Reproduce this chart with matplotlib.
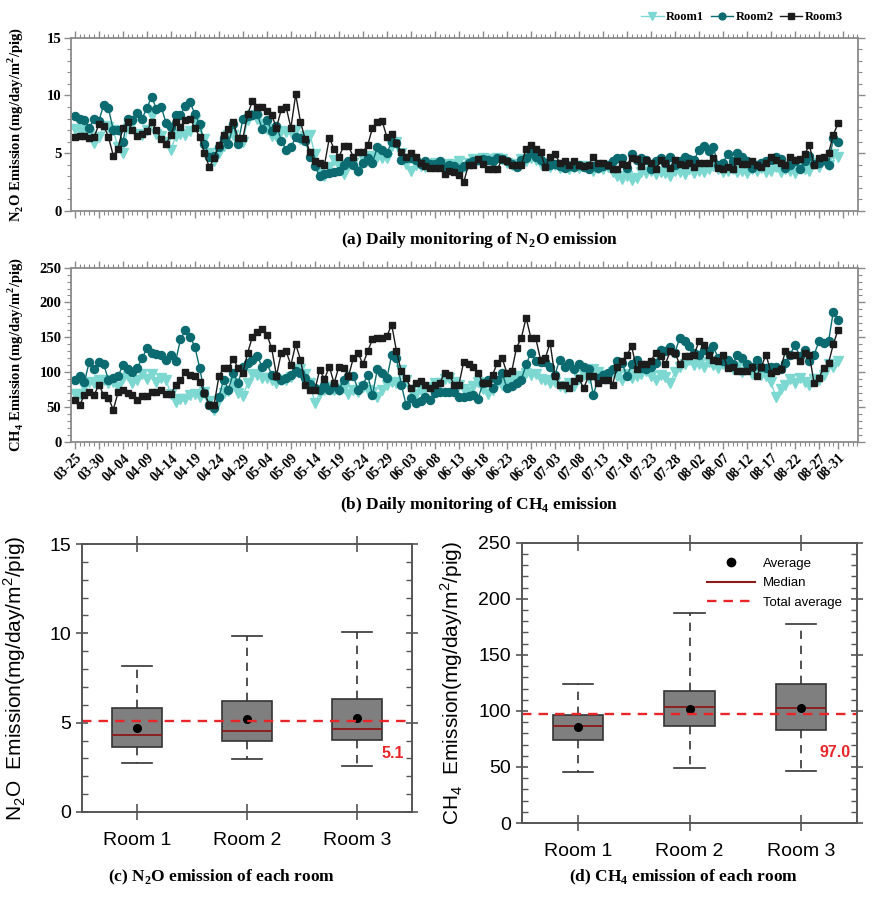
import matplotlib
matplotlib.use("Agg")
import numpy as np
import pandas as pd
import matplotlib.pyplot as plt
from matplotlib.ticker import MultipleLocator
from matplotlib.lines import Line2D

plt.rcParams["mathtext.fontset"] = "custom"
plt.rcParams["mathtext.rm"] = "Liberation Serif"
plt.rcParams["mathtext.bf"] = "Liberation Serif:bold"
plt.rcParams["mathtext.sf"] = "Liberation Sans"

# ---- daily data, 03-25 .. 08-31 ----
dates = pd.date_range("2019-03-25", "2019-08-31", freq="D")
days = np.arange(len(dates))

n2o_room1 = [
    7.1, 7.0, 6.9, 6.7, 5.9, 6.4, 7.4, 7.3, 7.0, 5.5,
    5.0, 7.2, 7.5, 6.7, 6.6, 7.0, 8.2, 6.7, 6.5, 6.0,
    5.3, 6.5, 6.7, 6.6, 6.9, 7.9, 7.3, 6.2, 5.0, 4.3,
    5.0, 5.6, 6.6, 6.6, 5.9, 6.0, 7.9, 8.3, 8.0, 7.5,
    7.1, 6.5, 6.5, 6.9, 6.8, 6.8, 7.0, 6.2, 6.5, 6.6,
    4.9, 3.4, 3.0, 3.8, 4.4, 3.9, 3.2, 4.0, 4.2, 3.5,
    4.5, 4.8, 4.5, 4.7, 4.6, 4.6, 5.6, 6.0, 5.0, 4.1,
    3.5, 4.0, 3.9, 3.8, 4.0, 4.2, 3.9, 3.7, 4.1, 4.0,
    4.3, 3.8, 4.2, 4.5, 4.4, 4.6, 4.5, 4.4, 4.6, 4.5,
    4.2, 4.0, 4.1, 4.5, 4.3, 4.6, 4.4, 4.1, 4.2, 3.8,
    4.0, 3.7, 3.9, 3.6, 3.8, 3.7, 3.9, 3.8, 3.5, 3.7,
    3.6, 3.8, 3.4, 3.0, 2.8, 3.0, 2.7, 2.9, 3.4, 3.3,
    3.5, 3.2, 3.4, 3.3, 3.0, 3.5, 3.4, 3.2, 3.6, 3.3,
    3.5, 3.4, 3.6, 3.9, 3.6, 3.4, 3.5, 3.6, 3.4, 3.5,
    3.3, 3.6, 3.5, 3.7, 3.4, 3.5, 3.8, 3.4, 3.6, 3.5,
    3.3, 3.7, 3.6, 3.5, 4.2, 3.8, 4.4, 4.0, 4.9, 4.7,
]
n2o_room2 = [
    8.2, 8.0, 7.9, 7.2, 8.0, 7.8, 9.2, 8.9, 7.0, 7.0,
    6.0, 8.0, 7.9, 8.5, 8.0, 8.9, 9.9, 8.8, 9.0, 7.6,
    7.3, 8.3, 8.3, 9.1, 9.4, 8.4, 7.5, 5.8, 4.7, 4.8,
    5.5, 6.3, 5.8, 7.5, 5.8, 8.0, 8.2, 8.3, 8.4, 7.1,
    7.9, 6.9, 7.4, 6.1, 5.3, 5.5, 6.4, 6.3, 6.1, 4.7,
    3.9, 3.0, 3.2, 3.3, 3.4, 3.5, 4.0, 4.3, 4.0, 3.5,
    4.2, 4.6, 4.2, 5.5, 5.3, 5.0, 6.0, 5.9, 4.4, 4.6,
    4.6, 4.4, 4.1, 4.3, 4.1, 4.1, 4.3, 3.8, 4.0, 3.9,
    3.6, 3.9, 4.2, 4.3, 4.4, 4.5, 4.4, 4.3, 4.6, 4.5,
    4.3, 4.1, 3.8, 4.4, 4.6, 5.0, 4.7, 4.4, 4.2, 4.0,
    4.1, 3.9, 3.7, 3.9, 3.8, 4.0, 3.8, 3.6, 3.9, 3.7,
    3.9, 4.0, 4.3, 4.6, 4.6, 3.7, 4.9, 4.4, 4.6, 4.4,
    3.6, 4.3, 4.6, 4.2, 4.7, 4.0, 4.3, 4.7, 4.5, 4.4,
    5.3, 5.6, 5.2, 5.5, 4.0, 4.2, 4.9, 4.3, 5.0, 4.7,
    4.3, 3.7, 4.0, 4.2, 4.3, 4.4, 4.7, 4.5, 3.7, 4.0,
    4.3, 3.6, 4.3, 4.8, 4.1, 4.2, 4.4, 4.0, 6.3, 6.0,
]
n2o_room3 = [
    6.4, 6.5, 6.5, 6.3, 6.4, 7.5, 7.4, 6.4, 4.8, 5.4,
    7.2, 7.7, 7.0, 6.5, 6.7, 6.9, 7.7, 7.0, 6.2, 5.8,
    6.6, 7.7, 7.3, 7.9, 8.0, 7.2, 6.4, 5.0, 3.8, 4.6,
    5.7, 6.6, 7.1, 7.7, 6.3, 6.3, 8.4, 9.5, 9.0, 9.0,
    8.7, 8.3, 7.2, 8.8, 9.0, 7.2, 10.1, 7.7, 6.2, 5.1,
    4.3, 4.2, 4.0, 6.3, 5.4, 4.7, 5.6, 5.6, 4.7, 5.1,
    5.1, 5.7, 7.2, 7.7, 7.8, 6.4, 6.7, 5.9, 5.1, 4.7,
    5.0, 4.7, 4.2, 3.9, 3.7, 3.7, 3.7, 3.2, 3.5, 3.4,
    3.1, 2.5, 4.0, 4.0, 4.5, 4.1, 3.6, 3.6, 3.6, 4.5,
    4.3, 4.0, 4.0, 4.0, 5.4, 5.7, 5.4, 5.1, 3.8, 4.7,
    4.9, 4.2, 4.3, 4.0, 4.3, 4.0, 3.9, 4.0, 4.7, 4.2,
    4.2, 4.0, 3.6, 3.6, 4.1, 4.0, 4.6, 4.5, 3.9, 4.4,
    4.2, 3.6, 4.4, 4.2, 3.7, 4.4, 4.1, 4.0, 4.2, 3.8,
    4.2, 4.2, 4.2, 4.6, 3.7, 3.6, 3.8, 3.6, 4.3, 4.1,
    4.1, 4.3, 4.0, 3.8, 4.2, 4.7, 4.4, 4.2, 4.0, 4.7,
    4.4, 4.5, 4.9, 5.7, 4.0, 4.6, 4.7, 5.0, 6.6, 7.6,
]

ch4_room1 = [
    68, 68, 79, 86, 84, 89, 88, 84, 86, 79,
    92, 94, 85, 88, 98, 90, 98, 86, 92, 88,
    69, 57, 61, 61, 67, 69, 65, 72, 59, 45,
    60, 70, 73, 84, 70, 66, 84, 98, 96, 92,
    91, 89, 84, 89, 88, 93, 101, 105, 98, 84,
    55, 70, 75, 79, 74, 75, 77, 68, 74, 72,
    78, 75, 72, 65, 75, 81, 86, 84, 103, 89,
    74, 69, 74, 77, 79, 84, 84, 90, 91, 86,
    82, 76, 72, 80, 86, 76, 68, 74, 84, 82,
    86, 90, 94, 92, 99, 96, 98, 90, 88, 84,
    86, 80, 77, 85, 80, 90, 96, 92, 104, 100,
    96, 92, 100, 95, 89, 97, 92, 94, 98, 101,
    95, 89, 96, 93, 84, 100, 108, 112, 118, 110,
    112, 108, 114, 110, 106, 112, 110, 104, 108, 100,
    104, 98, 102, 96, 94, 86, 65, 76, 82, 90,
    84, 92, 86, 82, 90, 88, 96, 111, 108, 116,
]
ch4_room2 = [
    89, 94, 86, 115, 104, 114, 111, 89, 91, 94,
    110, 104, 100, 106, 120, 134, 128, 126, 125, 118,
    125, 116, 147, 160, 151, 136, 106, 70, 53, 48,
    65, 89, 75, 99, 84, 108, 113, 118, 123, 108,
    113, 96, 94, 89, 92, 96, 101, 99, 92, 83,
    77, 75, 82, 75, 80, 75, 89, 94, 94, 75,
    82, 96, 67, 104, 99, 91, 125, 120, 82, 53,
    63, 56, 58, 65, 60, 70, 72, 72, 72, 72,
    65, 65, 66, 67, 62, 84, 89, 77, 89, 99,
    77, 80, 84, 89, 111, 128, 116, 115, 115, 108,
    96, 118, 108, 113, 104, 111, 108, 104, 67, 91,
    96, 99, 104, 116, 113, 94, 111, 118, 106, 104,
    108, 113, 132, 130, 136, 128, 149, 144, 137, 128,
    125, 132, 130, 137, 120, 116, 118, 111, 125, 120,
    111, 108, 118, 108, 106, 108, 108, 104, 113, 125,
    139, 123, 132, 116, 125, 144, 142, 144, 187, 175,
]
ch4_room3 = [
    60, 53, 67, 71, 67, 82, 67, 63, 46, 71,
    75, 70, 67, 60, 66, 66, 71, 72, 75, 69,
    69, 81, 88, 100, 96, 94, 86, 70, 53, 53,
    94, 106, 106, 119, 106, 99, 128, 151, 158, 162,
    154, 134, 95, 128, 130, 110, 140, 118, 82, 75,
    75, 103, 90, 108, 84, 108, 106, 94, 120, 128,
    111, 130, 147, 149, 149, 152, 168, 130, 101, 91,
    77, 84, 87, 82, 77, 82, 84, 99, 96, 82,
    82, 115, 111, 108, 99, 84, 84, 96, 113, 120,
    99, 101, 135, 149, 178, 149, 149, 118, 120, 142,
    94, 82, 82, 77, 87, 91, 77, 94, 94, 84,
    89, 89, 82, 108, 116, 125, 137, 104, 111, 111,
    116, 128, 123, 111, 130, 128, 111, 123, 123, 125,
    144, 139, 125, 118, 116, 125, 106, 108, 101, 101,
    101, 108, 94, 108, 125, 99, 101, 104, 130, 125,
    125, 116, 128, 125, 84, 92, 106, 113, 140, 161,
]

rooms = ["Room 1", "Room 2", "Room 3"]
# box statistics: low whisker, q1, median, q3, high whisker, mean
n2o_low = [2.72, 2.95, 2.56]
n2o_q1 = [3.64, 3.95, 4.02]
n2o_med = [4.29, 4.53, 4.65]
n2o_q3 = [5.82, 6.23, 6.30]
n2o_high = [8.19, 9.85, 10.06]
n2o_mean = [4.72, 5.21, 5.24]
n2o_total = 5.1

ch4_low = [45.2, 48.8, 46.1]
ch4_q1 = [74.4, 86.3, 82.7]
ch4_med = [86.3, 103.3, 103.0]
ch4_q3 = [96.7, 117.6, 123.8]
ch4_high = [124.0, 187.5, 178.0]
ch4_mean = [85.7, 101.8, 103.0]
ch4_total = 97.0

C1, C2, C3 = "#7dd8d2", "#0b6b70", "#1c1c1c"
SERIF = "Liberation Serif"
SANS = "Liberation Sans"
GREY = "#8a8a8a"

fig = plt.figure(figsize=(8.88, 8.98), dpi=100)
ax_a = fig.add_axes([0.080, 0.765, 0.886, 0.193])
ax_b = fig.add_axes([0.080, 0.508, 0.886, 0.194])
ax_c = fig.add_axes([0.0923, 0.0958, 0.3716, 0.2984])
ax_d = fig.add_axes([0.588, 0.0835, 0.377, 0.312])


def draw_daily(ax, r1, r2, r3, top, major, minor):
    h1, = ax.plot(days, r1, color=C1, lw=1.0, marker="v", ms=6.5, mec=C1, mfc=C1)
    h2, = ax.plot(days, r2, color=C2, lw=1.0, marker="o", ms=5.8, mec=C2, mfc=C2)
    h3, = ax.plot(days, r3, color=C3, lw=1.0, marker="s", ms=4.3, mec=C3, mfc=C3)
    ax.set_xlim(-0.8, 163.1)
    ax.set_ylim(0, top)
    ax.yaxis.set_major_locator(MultipleLocator(major))
    ax.yaxis.set_minor_locator(MultipleLocator(minor))
    ax.xaxis.set_major_locator(MultipleLocator(5))
    ax.xaxis.set_minor_locator(MultipleLocator(1))
    for s in ax.spines.values():
        s.set_color(GREY)
        s.set_linewidth(1.3)
    ax.tick_params(which="both", direction="out", color=GREY, top=True, right=True,
                   labelright=False, labeltop=False)
    ax.tick_params(which="major", length=5, width=1.0, pad=2)
    ax.tick_params(which="minor", length=3, width=0.8)
    for lab in ax.get_yticklabels():
        lab.set_fontfamily(SERIF)
        lab.set_fontweight("bold")
        lab.set_fontsize(10.5)
    return h1, h2, h3


handles = draw_daily(ax_a, n2o_room1, n2o_room2, n2o_room3, 15, 5, 1)
ax_a.tick_params(axis="x", labelbottom=False)
ax_a.set_ylabel(r"N$_\mathbf{2}$O Emission (mg/day/m$^\mathbf{2}$/pig)",
                fontfamily=SERIF, fontweight="bold", fontsize=10.5)
ax_a.yaxis.set_label_coords(-0.058, 0.5)

draw_daily(ax_b, ch4_room1, ch4_room2, ch4_room3, 250, 50, 10)
tick_idx = list(range(0, len(dates), 5)) + [len(dates) - 1]
ax_b.set_xticks(tick_idx)
ax_b.set_xticklabels(dates[tick_idx].strftime("%m-%d"), rotation=45, ha="right",
                     rotation_mode="anchor", fontfamily=SERIF, fontweight="bold",
                     fontsize=10)
ax_b.set_ylabel(r"CH$_\mathbf{4}$ Emission (mg/day/m$^\mathbf{2}$/pig)",
                fontfamily=SERIF, fontweight="bold", fontsize=10.5)
ax_b.yaxis.set_label_coords(-0.058, 0.5)

fig.legend(handles, ["Room1", "Room2", "Room3"], loc="upper right",
           bbox_to_anchor=(0.962, 1.0), ncol=3, frameon=False, handlelength=1.8,
           handletextpad=0.2, columnspacing=0.5, markerscale=0.85,
           prop={"family": SERIF, "weight": "bold", "size": 9})


def draw_boxes(ax, low, q1, med, q3, high, mean, total, top, major, minor):
    stats = [dict(whislo=a, q1=b, med=c, q3=d, whishi=e, mean=f, fliers=[])
             for a, b, c, d, e, f in zip(low, q1, med, q3, high, mean)]
    ax.bxp(stats, positions=[1, 2, 3], widths=0.45, capwidths=0.27,
           showmeans=True, showfliers=False, patch_artist=True,
           boxprops=dict(facecolor="#7f7f7f", edgecolor="#333333", lw=1.2),
           medianprops=dict(color="#8b1a1a", lw=1.3),
           whiskerprops=dict(color="#333333", lw=1.2, ls=(0, (5, 4))),
           capprops=dict(color="#333333", lw=1.2),
           meanprops=dict(marker="o", mfc="black", mec="black", ms=5.5))
    ax.axhline(total, color="#e8262a", lw=1.7, ls=(0, (4, 3)), zorder=2.5)
    ax.set_xlim(0.5, 3.5)
    ax.set_ylim(0, top)
    ax.set_xticks([1, 2, 3])
    ax.set_xticklabels(rooms, fontfamily=SANS, fontsize=14)
    ax.yaxis.set_major_locator(MultipleLocator(major))
    ax.yaxis.set_minor_locator(MultipleLocator(minor))
    for s in ax.spines.values():
        s.set_color("#555555")
        s.set_linewidth(1.4)
    ax.tick_params(axis="y", which="major", direction="inout", length=9, width=1.2,
                   left=True, right=True, color="#555555", labelsize=14)
    ax.tick_params(axis="y", which="minor", direction="in", length=4, width=1.0,
                   left=True, right=True, color="#555555")
    ax.tick_params(axis="x", which="major", direction="inout", length=11, width=1.2,
                   top=True, color="#555555", pad=9)
    for lab in ax.get_yticklabels():
        lab.set_fontfamily(SANS)


draw_boxes(ax_c, n2o_low, n2o_q1, n2o_med, n2o_q3, n2o_high, n2o_mean, n2o_total, 15, 5, 1)
ax_c.set_ylabel(r"N$_\mathsf{2}$O  Emission(mg/day/m$^\mathsf{2}$/pig)",
                fontfamily=SANS, fontsize=15)
ax_c.yaxis.set_label_coords(-0.165, 0.5)
ax_c.text(3.33, 3.3, f"{n2o_total:.1f}", color="#e8262a", fontfamily=SANS,
          fontweight="bold", fontsize=11.5, ha="center", va="center")

draw_boxes(ax_d, ch4_low, ch4_q1, ch4_med, ch4_q3, ch4_high, ch4_mean, ch4_total, 250, 50, 10)
ax_d.set_ylabel(r"CH$_\mathsf{4}$  Emission(mg/day/m$^\mathsf{2}$/pig)",
                fontfamily=SANS, fontsize=15)
ax_d.yaxis.set_label_coords(-0.17, 0.5)
ax_d.text(3.3, 63, f"{ch4_total:.1f}", color="#e8262a", fontfamily=SANS,
          fontweight="bold", fontsize=11.5, ha="center", va="center")
leg_handles = [
    Line2D([], [], marker="o", color="black", ls="none", ms=6),
    Line2D([], [], color="#8b1a1a", lw=1.5),
    Line2D([], [], color="#e8262a", lw=1.7, ls=(0, (4, 3))),
]
ax_d.legend(leg_handles, ["Average", "Median", "Total average"], loc="upper right",
            bbox_to_anchor=(0.99, 0.99), frameon=False, handlelength=3.6,
            labelspacing=0.55, handletextpad=0.6, prop={"family": SANS, "size": 9.5})

cap = {"fontfamily": SERIF, "fontweight": "bold", "fontsize": 12.5, "ha": "center", "va": "center"}
fig.text(0.54, 0.733, r"(a) Daily monitoring of N$_\mathbf{2}$O emission", **cap)
fig.text(0.54, 0.438, r"(b) Daily monitoring of CH$_\mathbf{4}$ emission", **cap)
fig.text(0.25, 0.023, r"(c) N$_\mathbf{2}$O emission of each room", **cap)
fig.text(0.77, 0.023, r"(d) CH$_\mathbf{4}$ emission of each room", **cap)

fig.savefig("out.png", dpi=100)
